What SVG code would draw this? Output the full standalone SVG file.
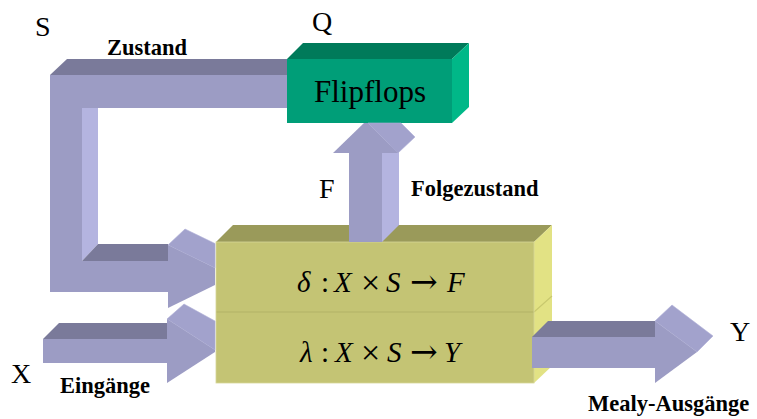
<svg xmlns="http://www.w3.org/2000/svg" width="757" height="419" viewBox="0 0 757 419">
<defs>
<style>
.af{fill:#9c9cc4}
.at{fill:#7a7a9a}
.as{fill:#b4b4e0}
.ah{fill:#a2a2cc;stroke:#b0b0d8;stroke-width:0.6}
.yf{fill:#c4c474}
.yt{fill:#9a9a5a}
.ys{fill:#e2e284}
.gf{fill:#009e78}
.gt{fill:#007a5a}
.gs{fill:#00b888}
</style>
</defs>
<rect width="757" height="419" fill="#fff"/>

<g id="logic">
  <polygon class="yt" points="216,242 233,225 552,225 534,242"/>
  <polygon class="ys" points="534,242 552,225 552,366 534,383"/>
  <rect class="yf" x="216" y="242" width="318" height="141"/>
  <line x1="216" y1="312" x2="534" y2="312" stroke="#b2b266" stroke-width="1.2"/>
  <line x1="534" y1="312" x2="552" y2="296" stroke="#c8c86e" stroke-width="1.2"/>
  <rect x="216" y="242" width="318" height="141" fill="none" stroke="#d6d69a" stroke-width="0.8"/>
  <text style="font-family:'Liberation Serif';font-size:29px" fill="#000"><tspan style="font-style:italic" x="297" y="292">δ</tspan><tspan x="321" y="292">:</tspan><tspan style="font-style:italic" x="334" y="292">X</tspan><tspan style="font-size:34px" x="361" y="294">×</tspan><tspan style="font-style:italic" x="386" y="292">S</tspan><tspan style="font-family:'DejaVu Serif';font-size:33px;font-weight:200" x="410" y="293">→</tspan><tspan style="font-style:italic" x="447" y="292">F</tspan></text>
  <text style="font-family:'Liberation Serif';font-size:29px" fill="#000"><tspan style="font-style:italic" x="300" y="362">λ</tspan><tspan x="321" y="362">:</tspan><tspan style="font-style:italic" x="335" y="362">X</tspan><tspan style="font-size:34px" x="361" y="364">×</tspan><tspan style="font-style:italic" x="387" y="362">S</tspan><tspan style="font-family:'DejaVu Serif';font-size:33px;font-weight:200" x="410" y="363">→</tspan><tspan style="font-style:italic" x="444" y="362">Y</tspan></text>
</g>

<g id="flipflops">
  <polygon class="gt" points="287,59 303,43 469,43 452,59"/>
  <polygon class="gs" points="452,59 469,43 469,107 452,123"/>
  <rect class="gf" x="287" y="59" width="165" height="64"/>
  <text x="370" y="102" style="font-family:'Liberation Serif';font-size:31px" fill="#000" text-anchor="middle">Flipflops</text>
</g>

<g id="connectors">
  <g id="feedback">
    <polygon class="at" points="50,75 67,59 287,59 287,75"/>
    <polygon class="af" points="50,75 287,75 287,108 82,108 82,261 168,261 168,292 50,292"/>
    <polygon class="as" points="82,108 98,108 98,244 82,261"/>
    <polygon class="at" points="82,261 98,244 168,244 168,261"/>
    <polygon class="ah" points="168,245 185,229 215,243.5 215,268"/>
    <polygon class="af" points="168,245 215,268 215,285 168,308"/>
  </g>
  <g id="input">
    <polygon class="at" points="43,339 59,323 167,323 167,339"/>
    <rect class="af" x="43" y="339" width="124" height="24"/>
    <polygon class="ah" points="167,319 184,304 215,321 215,350"/>
    <polygon class="af" points="167,319 215,350 215,352 167,383"/>
  </g>
  <g id="next">
    <polygon class="as" points="382,153 399,137 399,225 382,242"/>
    <rect class="af" x="349" y="153" width="33" height="89"/>
    <polygon class="ah" points="368,123 401,123 415,137 398,153"/>
    <polygon class="af" points="333,153 364,123 368,123 398,153"/>
  </g>
  <g id="output">
    <polygon class="at" points="532,337 548,321 655,321 655,337"/>
    <rect class="af" x="532" y="337" width="123" height="31"/>
    <polygon class="ah" points="655,321 672,305 713,336 697,352"/>
    <polygon class="af" points="655,321 697,352 655,383"/>
  </g>
</g>

<g id="labels" fill="#000">
  <text x="35" y="36" style="font-family:'Liberation Serif';font-size:28px">S</text>
  <text x="312" y="31" style="font-family:'Liberation Serif';font-size:28px">Q</text>
  <text x="107" y="55" style="font-family:'Liberation Serif';font-size:22.5px;font-weight:bold">Zustand</text>
  <text x="319" y="198" style="font-family:'Liberation Serif';font-size:28px">F</text>
  <text x="411" y="196" style="font-family:'Liberation Serif';font-size:22.5px;font-weight:bold">Folgezustand</text>
  <text x="11" y="383" style="font-family:'Liberation Serif';font-size:28px">X</text>
  <text x="60" y="393" style="font-family:'Liberation Serif';font-size:22.5px;font-weight:bold">Eingänge</text>
  <text x="730" y="341" style="font-family:'Liberation Serif';font-size:28px">Y</text>
  <text x="588" y="411" style="font-family:'Liberation Serif';font-size:22.5px;font-weight:bold">Mealy-Ausgänge</text>
</g>
</svg>
